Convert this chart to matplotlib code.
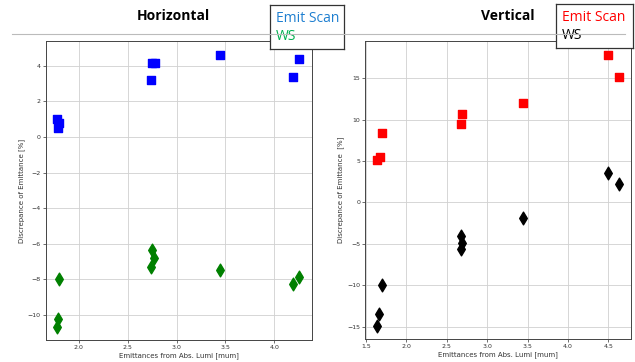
import matplotlib.pyplot as plt

# horizontal plane
h_emit_x = [1.778, 1.80, 1.79, 2.737, 2.754, 2.778, 3.447, 4.188, 4.256]
h_emit_y = [1.03, 0.79, 0.52, 3.18, 4.17, 4.17, 4.59, 3.37, 4.40]
h_ws_x = [1.795, 1.79, 1.778, 2.754, 2.77, 2.737, 3.447, 4.188, 4.256]
h_ws_y = [-7.95, -10.2, -10.67, -6.36, -6.79, -7.30, -7.45, -8.23, -7.86]

# vertical plane
v_emit_x = [1.644, 1.677, 1.70, 2.678, 2.69, 3.449, 4.50, 4.636]
v_emit_y = [5.13, 5.50, 8.44, 9.48, 10.65, 11.98, 17.82, 15.2]
v_ws_x = [1.64, 1.669, 1.698, 2.68, 2.695, 2.675, 3.449, 4.50, 4.632]
v_ws_y = [-14.96, -13.47, -10.0, -4.0, -4.85, -5.58, -1.87, 3.52, 2.19]

W, H = 635, 362
fig = plt.figure(figsize=(W / 100, H / 100), dpi=100)

def box(x0, y0, x1, y1):
    # pixel box -> figure fraction [left, bottom, width, height]
    return [x0 / W, 1 - y1 / H, (x1 - x0) / W, (y1 - y0) / H]

def panel(rect, ex, ey, wx, wy, ecol, wcol, xlim, ylim, xticks, yticks, ylabel):
    ax = fig.add_axes(rect)
    ax.scatter(ex, ey, marker='s', s=36, color=ecol, zorder=3)
    ax.scatter(wx, wy, marker='d', s=42, color=wcol, zorder=3)
    ax.set_xlim(*xlim)
    ax.set_ylim(*ylim)
    ax.set_xticks(xticks)
    ax.set_yticks(yticks)
    ax.grid(True, color='#d0d0d0', linewidth=0.6)
    ax.set_axisbelow(True)
    ax.tick_params(labelsize=4.5, length=2, width=0.5, pad=1.5, colors='#333333')
    for s in ax.spines.values():
        s.set_linewidth(0.7)
        s.set_color('#444444')
    ax.set_xlabel('Emittances from Abs. Lumi [mum]', fontsize=5, labelpad=1.5, color='#333333')
    ax.set_ylabel(ylabel, fontsize=5, labelpad=2, color='#333333')
    return ax

panel(box(45.5, 41, 311.5, 340), h_emit_x, h_emit_y, h_ws_x, h_ws_y,
      'blue', 'green', (1.66, 4.38), (-11.4, 5.39),
      [2.0, 2.5, 3.0, 3.5, 4.0], list(range(-10, 5, 2)),
      'Discrepance of Emittance [%]')
panel(box(365, 41, 631, 339), v_emit_x, v_emit_y, v_ws_x, v_ws_y,
      'red', 'black', (1.49, 4.78), (-16.5, 19.5),
      [1.5, 2.0, 2.5, 3.0, 3.5, 4.0, 4.5], list(range(-15, 16, 5)),
      'Discrepance of Emittance  [%]')

# slide-style headings and separator line
fig.add_artist(plt.Line2D([12 / W, 625 / W], [1 - 34 / H] * 2, color='#bbbbbb', lw=0.8))
fig.text(173 / W, 1 - 16 / H, 'Horizontal', fontsize=10, fontweight='bold',
         family='Open Sans', ha='center', va='center')
fig.text(508 / W, 1 - 16 / H, 'Vertical', fontsize=10, fontweight='bold',
         family='Open Sans', ha='center', va='center')

# text-box legends
for (x0, y0, x1, y1), c1, c2 in [((270, 5, 344, 49), '#1e7fd0', '#00b050'),
                                  ((556, 4, 633, 48), '#ff0000', '#000000')]:
    lg = fig.add_axes(box(x0, y0, x1, y1))
    lg.set_xticks([])
    lg.set_yticks([])
    for s in lg.spines.values():
        s.set_linewidth(0.9)
        s.set_color('#333333')
    lg.text(0.08, 0.7, 'Emit Scan', color=c1, fontsize=10, family='Open Sans',
            transform=lg.transAxes, va='center', ha='left')
    lg.text(0.08, 0.28, 'WS', color=c2, fontsize=10, family='Open Sans',
            transform=lg.transAxes, va='center', ha='left')

fig.savefig('out.png', dpi=100)
